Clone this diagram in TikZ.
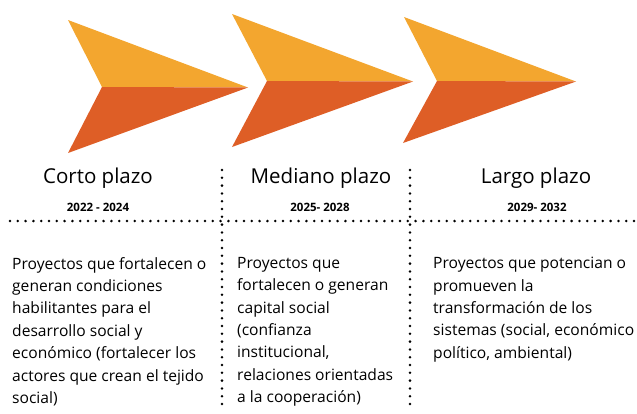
\documentclass[tikz,border=0pt]{standalone}
\usepackage{fontspec}
\setmainfont{Open Sans}
\usepackage{xcolor}
\usepackage{tikz}
\definecolor{naranja}{HTML}{F3A62F}
\definecolor{rojizo}{HTML}{DE5E26}

\begin{document}
\begin{tikzpicture}[x=1pt,y=-1pt]
      % Definimos algunos estilos
      \tikzstyle{plazo}=[font=\fontsize{20.5}{24}\selectfont, inner sep=0pt]
      \tikzstyle{anios}=[font=\fontsize{11.5}{13}\selectfont\bfseries, inner sep=0pt]
      % texto de cada columna
      \tikzstyle{texto}=[
        font=\fontsize{15.6}{22.4}\selectfont,
        align=left,
        anchor=north west,
        inner sep=0pt
      ]
      % lineas de puntos redondos
      \tikzstyle{punteada}=[line width=2.8pt, line cap=round, dash pattern=on 0pt off 7.8pt]

      \useasboundingbox (0,0) rectangle (637,413);

      % flecha corto plazo
      \fill[naranja] (68,20) -- (102,87) -- (248,87.5) -- cycle;
      \fill[rojizo] (102,87) -- (68,153) -- (248,87.5) -- cycle;

      % flecha mediano plazo
      \fill[naranja] (232,14) -- (267,81) -- (413,81.5) -- cycle;
      \fill[rojizo] (267,81) -- (232,147) -- (413,81.5) -- cycle;

      % flecha largo plazo
      \fill[naranja] (404,17) -- (437,81) -- (576,81.5) -- cycle;
      \fill[rojizo] (437,81) -- (403,143) -- (576,81.5) -- cycle;

      % titulos
      \node[plazo] (corto) at (98,178) {Corto plazo};
      \node[plazo] (mediano) at (321,178) {Mediano plazo};
      \node[plazo] (largo) at (536,178) {Largo plazo};

      % años
      \node[anios] (anios1) at (98,207) {2022 - 2024};
      \node[anios] (anios2) at (320,207) {2025- 2028};
      \node[anios] (anios3) at (537,207) {2029- 2032};

      % lineas de puntos
      \coordinate (hIzq) at (10,221);
      \coordinate (hDer) at (637,221);
      \coordinate (v1Arr) at (222,170);
      \coordinate (v1Abj) at (222,411);
      \coordinate (v2Arr) at (410,170);
      \coordinate (v2Abj) at (410,411);
      \draw[punteada] (hIzq) -- (hDer);
      \draw[punteada] (v1Arr) -- (v1Abj);
      \draw[punteada] (v2Arr) -- (v2Abj);

      % textos
      \node[texto] (col1) at (12,257) {Proyectos que fortalecen o\\generan condiciones\\habilitantes para el\\desarrollo social y\\económico (fortalecer los\\actores que crean el tejido\\social)};
      \node[texto] (col2) at (237,257) {Proyectos que\\fortalecen o generan\\capital social\\(confianza\\institucional,\\relaciones orientadas\\a la cooperación)};
      \node[texto] (col3) at (433,257) {Proyectos que potencian o\\promueven la\\transformación de los\\sistemas (social, económico\\político, ambiental)};
\end{tikzpicture}
\end{document}
